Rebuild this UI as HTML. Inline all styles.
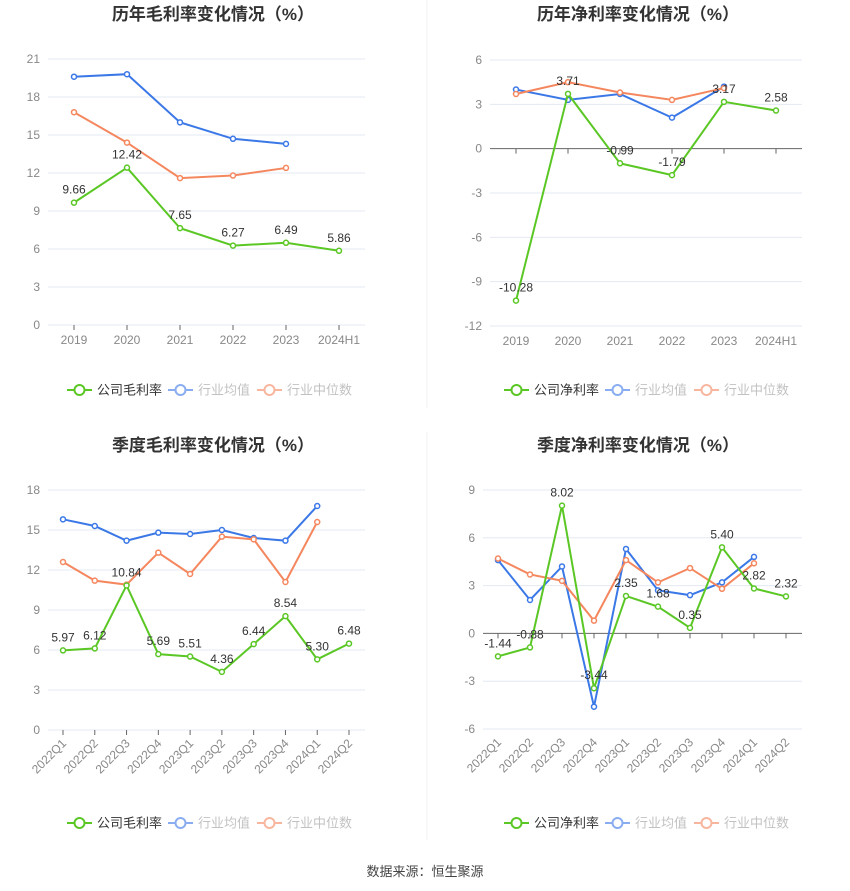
<!DOCTYPE html>
<html><head><meta charset="utf-8"><style>
body{margin:0;background:#fff;width:850px;height:891px;overflow:hidden;font-family:"Liberation Sans","Noto Sans CJK SC",sans-serif}
svg{display:block}
</style></head><body>
<svg id="root" width="850" height="891" xmlns="http://www.w3.org/2000/svg" font-family="Liberation Sans, Noto Sans CJK SC, sans-serif">
<line x1="427" y1="0" x2="427" y2="408" stroke="#f0f0f0"/>
<line x1="427" y1="432" x2="427" y2="840" stroke="#f0f0f0"/>
<text x="425" y="876" text-anchor="middle" font-size="13" fill="#444">数据来源：恒生聚源</text>
</svg>
<script>
const annualCats=["2019","2020","2021","2022","2023","2024H1"];
const quarterCats=["2022Q1","2022Q2","2022Q3","2022Q4","2023Q1","2023Q2","2023Q3","2023Q4","2024Q1","2024Q2"];
const c1Company=[9.66,12.42,7.65,6.27,6.49,5.86];
const c1Avg=[19.6,19.8,16.0,14.7,14.3];
const c1Median=[16.8,14.4,11.6,11.8,12.4];
const c1Ticks=[0,3,6,9,12,15,18,21];
const c2Company=[-10.28,3.71,-0.99,-1.79,3.17,2.58];
const c2Avg=[4.0,3.3,3.7,2.1,4.2];
const c2Median=[3.7,4.5,3.8,3.3,4.1];
const c2Ticks=[-12,-9,-6,-3,0,3,6];
const c3Company=[5.97,6.12,10.84,5.69,5.51,4.36,6.44,8.54,5.30,6.48];
const c3Avg=[15.8,15.3,14.2,14.8,14.7,15.0,14.4,14.2,16.8];
const c3Median=[12.6,11.2,10.9,13.3,11.7,14.5,14.3,11.1,15.6];
const c3Ticks=[0,3,6,9,12,15,18];
const c4Company=[-1.44,-0.88,8.02,-3.44,2.35,1.68,0.35,5.40,2.82,2.32];
const c4Avg=[4.6,2.1,4.2,-4.6,5.3,2.7,2.4,3.2,4.8];
const c4Median=[4.7,3.7,3.3,0.8,4.6,3.2,4.1,2.8,4.4];
const c4Ticks=[-6,-3,0,3,6,9];

const NS="http://www.w3.org/2000/svg";
const root=document.getElementById('root');
const G="#5ac725",B="#3b78e7",O="#f5875f";
function mk(tag,attrs,parent,txt){const e=document.createElementNS(NS,tag);for(const k in attrs)e.setAttribute(k,attrs[k]);if(txt!==undefined)e.textContent=txt;parent.appendChild(e);return e;}

function chart(cfg){
  const g=mk('g',{},root);
  
  
  const t=mk('text',{x:cfg.cx,y:cfg.titleY,'text-anchor':'middle','font-size':17,'font-weight':'bold',fill:'#333'},g,cfg.title);
  
  
  const tmin=cfg.ticks[0],tmax=cfg.ticks[cfg.ticks.length-1];
  const y=v=>cfg.y0+(cfg.y1-cfg.y0)*(v-tmin)/(tmax-tmin);
  const n=cfg.cats.length;
  const x=i=>cfg.xFirst+i*(cfg.xLast-cfg.xFirst)/(n-1);
  cfg.ticks.forEach(v=>{
    const l=mk('line',{x1:cfg.left,x2:cfg.right,y1:y(v),y2:y(v),stroke:v===0&&tmin<0?'#666':'#e3e8f2'},g);
    
    
    const tl=mk('text',{x:cfg.left-8,y:y(v)+4,'text-anchor':'end','font-size':12,fill:'#888'},g,String(v));
    
    
  });
  const axisY=tmin<0?y(0):y(tmin);
  cfg.cats.forEach((c,i)=>{
    const tk=mk('line',{x1:x(i),x2:x(i),y1:axisY,y2:axisY+5,stroke:'#666'},g);
    
    
    let lab;
    if(cfg.rot){
      lab=mk('text',{x:x(i)+4,y:y(tmin)+14,'text-anchor':'end','font-size':12,fill:'#888',transform:`rotate(-45 ${x(i)+4} ${y(tmin)+14})`},g,c);
    }else{
      lab=mk('text',{x:x(i),y:y(tmin)+19,'text-anchor':'middle','font-size':12,fill:'#888'},g,c);
    }
    
    
  });
  const series=[[cfg.avg,B,'industry-average'],[cfg.median,O,'industry-median'],[cfg.company,G,'company']];
  series.forEach(([d,col,nm])=>{
    const p=mk('polyline',{points:d.map((v,i)=>x(i)+','+y(v)).join(' '),fill:'none',stroke:col,'stroke-width':2},g);
    
    
    d.forEach((v,i)=>{
      const c=mk('circle',{cx:x(i),cy:y(v),r:2.5,fill:'#fff',stroke:col,'stroke-width':1.5},g);
      
      
    });
  });
  cfg.company.forEach((v,i)=>{
    const l=mk('text',{x:x(i),y:y(v)-9,'text-anchor':'middle','font-size':12,fill:'#333'},g,v.toFixed(2));
    
    
  });
  const L=cfg.legendX,ly=cfg.legendY;
  const items=[[G,cfg.lname,'#333',0],[B,'行业均值','#999',101],[O,'行业中位数','#999',190]];
  items.forEach(([col,txt,tc,off])=>{
    const lg=mk('g',{opacity:col===G?1:0.6},g);
    
    
    mk('line',{x1:L+off,x2:L+off+25,y1:ly,y2:ly,stroke:col,'stroke-width':2},lg);
    mk('circle',{cx:L+off+12.5,cy:ly,r:5,fill:'#fff',stroke:col,'stroke-width':2},lg);
    mk('text',{x:L+off+30,y:ly+4.5,'font-size':13,fill:tc},lg,txt);
  });
}
chart({name:'annual-gross-margin-chart',title:'历年毛利率变化情况（%）',cx:213,titleY:20,cats:annualCats,company:c1Company,avg:c1Avg,median:c1Median,ticks:c1Ticks,y0:325,y1:59,left:48,right:365,xFirst:74,xLast:339,rot:false,legendX:67,legendY:390,lname:'公司毛利率'});
chart({name:'annual-net-margin-chart',title:'历年净利率变化情况（%）',cx:638,titleY:20,cats:annualCats,company:c2Company,avg:c2Avg,median:c2Median,ticks:c2Ticks,y0:326,y1:60,left:490,right:802,xFirst:516,xLast:776,rot:false,legendX:504,legendY:390,lname:'公司净利率'});
chart({name:'quarterly-gross-margin-chart',title:'季度毛利率变化情况（%）',cx:213,titleY:451,cats:quarterCats,company:c3Company,avg:c3Avg,median:c3Median,ticks:c3Ticks,y0:730,y1:490,left:48,right:365,xFirst:63,xLast:349,rot:true,legendX:67,legendY:823,lname:'公司毛利率'});
chart({name:'quarterly-net-margin-chart',title:'季度净利率变化情况（%）',cx:638,titleY:451,cats:quarterCats,company:c4Company,avg:c4Avg,median:c4Median,ticks:c4Ticks,y0:729,y1:490,left:483,right:802,xFirst:498,xLast:786,rot:true,legendX:504,legendY:823,lname:'公司净利率'});
</script>
</body></html>
